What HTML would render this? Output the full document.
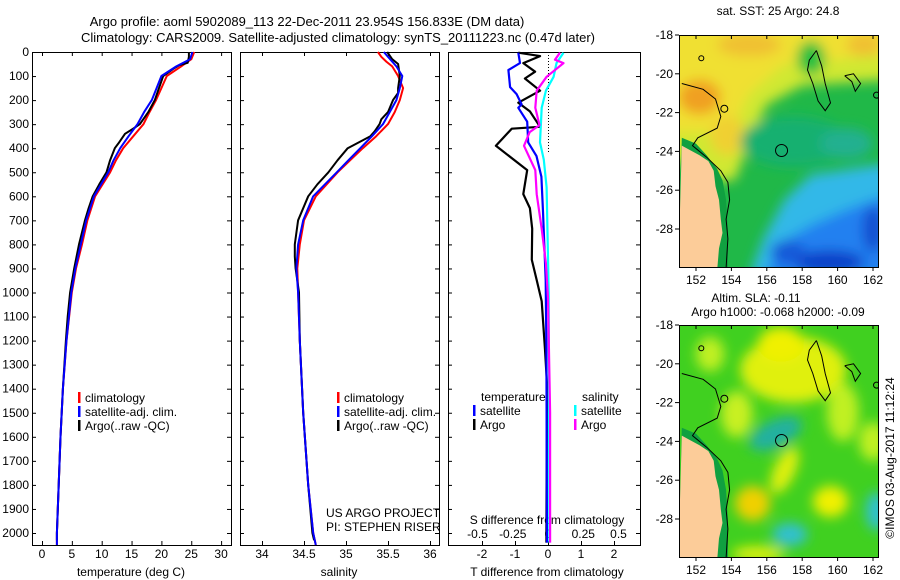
<!DOCTYPE html>
<html><head><meta charset="utf-8"><style>
body{margin:0;background:#fff}
svg{display:block;font-family:"Liberation Sans",sans-serif}
</style></head><body>
<svg id="chart" width="900" height="580" viewBox="0 0 900 580" xmlns="http://www.w3.org/2000/svg">
<defs>
<filter id="blur1" x="-30%" y="-30%" width="160%" height="160%"><feGaussianBlur stdDeviation="6"/></filter>
<clipPath id="clipTop"><rect x="679" y="35" width="199" height="232"/></clipPath>
<clipPath id="clipBot"><rect x="679" y="325" width="199" height="232"/></clipPath>
</defs>
<text x="307" y="26" font-size="13" text-anchor="middle">Argo profile: aoml 5902089_113 22-Dec-2011 23.954S 156.833E (DM data)</text>
<text x="338" y="42" font-size="13" text-anchor="middle">Climatology: CARS2009. Satellite-adjusted climatology: synTS_20111223.nc (0.47d later)</text>
<g id="layer"></g>
</svg>
<script>
// ---------- data ----------
const tArgoDepth=[0,20,45,55,70,100,150,200,250,300,320,340,380,400,450,500,550,600,650,700,800,900,1000,1100,1200,1400,1600,1800,2000,2030];
const tArgo=[24.6,24.6,24.4,23,22,20.3,19.6,18.9,17.8,16.4,15.2,13.9,12.8,12.2,11.4,10.8,9.6,8.5,7.8,7.2,6.2,5.4,4.7,4.3,4.0,3.5,3.1,2.8,2.5,2.5];
const climDepth=[0,30,60,100,150,200,250,300,350,400,450,500,600,700,800,900,1000,1200,1400,1600,1800,2000,2050];
const tClim=[25.5,25,23.3,20.9,20,19.1,18,17,15.3,13.6,12.4,11.4,8.9,7.6,6.7,5.7,5.0,4.1,3.5,3.1,2.8,2.5,2.5];
const tSat=[25.2,24.8,22.5,20,19.2,18.4,17.1,16,14.5,13.1,12,11.1,8.7,7.4,6.5,5.6,4.9,4.1,3.5,3.1,2.8,2.5,2.5];
const sArgoDepth=[0,30,50,100,150,170,200,250,280,300,330,350,400,450,500,550,600,700,800,850,900,1000,1200,1500,1800,2000,2030];
const sArgo=[35.49,35.55,35.62,35.64,35.62,35.62,35.56,35.5,35.42,35.4,35.34,35.29,35.02,34.9,34.79,34.66,34.55,34.43,34.39,34.39,34.4,34.44,34.45,34.49,34.55,34.6,34.62];
const sClimDepth=[0,20,40,60,100,150,200,250,300,350,400,450,500,600,700,800,900,1000,1200,1500,1800,2000,2050];
const sClim=[35.38,35.42,35.48,35.55,35.62,35.68,35.64,35.58,35.5,35.36,35.2,35.05,34.9,34.64,34.5,34.45,34.42,34.43,34.45,34.49,34.55,34.61,34.64];
const sSat=[35.45,35.5,35.55,35.6,35.67,35.64,35.6,35.52,35.44,35.31,35.17,35.03,34.89,34.61,34.49,34.43,34.41,34.43,34.45,34.49,34.55,34.61,34.64];
const dTArgoDepth=[3,17,46,82,110,161,211,247,311,319,390,491,591,649,735,864,950,1036,1237,1380,2000,2040];
const dTArgo=[-0.9,-0.24,-0.75,-0.39,-0.7,-0.24,-0.9,-0.55,-0.24,-1.1,-1.58,-0.63,-0.75,-0.55,-0.48,-0.49,-0.34,-0.19,-0.09,-0.03,-0.05,-0.05];
const dTSatDepth=[3,46,75,146,175,218,232,290,376,433,519,663,950,1237,2040];
const dTSat=[-0.9,-0.85,-1.2,-1.15,-0.95,-0.8,-0.9,-0.63,-0.6,-0.35,-0.2,-0.15,-0.07,-0.05,-0.03];
const dSSatDepth=[3,46,103,161,232,376,448,562,1000,2040];
const dSSat=[0.11,0.06,0.04,-0.015,-0.045,-0.057,-0.03,-0.01,0.005,0.01];
const dSArgoDepth=[3,32,46,103,161,232,304,333,390,491,591,735,878,1022,1500,2040];
const dSArgo=[0.085,0.05,0.11,-0.01,-0.08,-0.09,-0.06,-0.13,-0.17,-0.09,-0.08,-0.045,-0.015,0,0.015,0.015];
const depthTicks=[0,100,200,300,400,500,600,700,800,900,1000,1100,1200,1300,1400,1500,1600,1700,1800,1900,2000];
const tTicks=[0,5,10,15,20,25,30];
const sTicks=[34,34.5,35,35.5,36];
const dTTicks=[-2,-1,0,1,2];
const dSTicks=[-0.5,-0.25,0,0.25,0.5];
const latTicks=[-18,-20,-22,-24,-26,-28];
const lonTicks=[152,154,156,158,160,162];

// ---------- axes ----------
const TOP=52, BOT=545;
const yD=d=>TOP+d*0.2405;
const xT=t=>42+t*5.97;
const xS=s=>262+(s-34)*84;
const xDT=v=>548+v*33;
const xDS=v=>548+v*141;
const mapX=lon=>696+(lon-152)*17.7;
const mapYTop=lat=>35+(-18-lat)*19.4;
const mapYBot=lat=>325+(-18-lat)*19.4;

const NS='http://www.w3.org/2000/svg';
const L=document.getElementById('layer');
function mk(tag,attrs,parent){const e=document.createElementNS(NS,tag);for(const k in attrs)e.setAttribute(k,attrs[k]);(parent||L).appendChild(e);return e;}
function txt(s,x,y,size,anchor,parent){const e=mk('text',{x:x,y:y,'font-size':size,'text-anchor':anchor||'middle'},parent);e.textContent=s;return e;}

const panels=[[32,231],[240,439],[448,640]];
panels.forEach((p,i)=>{
  const r=mk('rect',{x:p[0]+0.5,y:TOP+0.5,width:p[1]-p[0],height:BOT-TOP,fill:'none',stroke:'#000','stroke-width':1});
  
  
});
depthTicks.forEach(d=>{
  const y=yD(d);
  const t=txt(String(d),29,y+4,12,'end');
  
  
  panels.forEach(p=>{
    mk('line',{x1:p[0],x2:p[0]+4,y1:y+0.5,y2:y+0.5,stroke:'#000'});
    mk('line',{x1:p[1]-4,x2:p[1],y1:y+0.5,y2:y+0.5,stroke:'#000'});
  });
});
function xAxis(ticks,fx,y,p,top){
  ticks.forEach(v=>{
    const x=fx(v);
    mk('line',{x1:x+0.5,x2:x+0.5,y1:BOT,y2:BOT-4,stroke:'#000'});
    if(top) mk('line',{x1:x+0.5,x2:x+0.5,y1:TOP,y2:TOP+4,stroke:'#000'});
    const t=txt(String(v),x,y,12);
    
    
  });
}
xAxis(tTicks,xT,558,panels[0],true);
xAxis(sTicks,xS,558,panels[1],true);
xAxis(dTTicks,xDT,558,panels[2],false);
dSTicks.forEach(v=>{
  const t=txt(String(v),xDS(v),538,12);
  
  
});
let t;
t=txt('temperature (deg C)',131,576,12);
t=txt('salinity',339,576,12);
t=txt('T difference from climatology',547,576,12);
t=txt('S difference from climatology',547,524,12);
t=txt('US ARGO PROJECT',326,517,12,'start');
t=txt('PI: STEPHEN RISER',326,531,12,'start');

const z=mk('line',{x1:548.5,x2:548.5,y1:TOP,y2:yD(420),stroke:'#000','stroke-dasharray':'1 2'});



function series(depths,vals,fx,color,w,name){
  const pts=depths.map((d,i)=>fx(vals[i]).toFixed(1)+','+yD(d).toFixed(1)).join(' ');
  const e=mk('polyline',{points:pts,fill:'none',stroke:color,'stroke-width':w,'stroke-linejoin':'round'});
  
  
}
series(climDepth,tClim,xT,'#f00',2,'temperature-climatology-line');
series(tArgoDepth,tArgo,xT,'#000',2,'temperature-argo-line');
series(climDepth,tSat,xT,'#00f',2,'temperature-satellite-line');
series(sClimDepth,sClim,xS,'#f00',2,'salinity-climatology-line');
series(sArgoDepth,sArgo,xS,'#000',2,'salinity-argo-line');
series(sClimDepth,sSat,xS,'#00f',2,'salinity-satellite-line');
series(dTArgoDepth,dTArgo,xDT,'#000',2.2,'t-diff-argo-line');
series(dTSatDepth,dTSat,xDT,'#00f',2.2,'t-diff-satellite-line');
series(dSSatDepth,dSSat,xDS,'#0ff',2.2,'s-diff-satellite-line');
series(dSArgoDepth,dSArgo,xDS,'#f0f',2.2,'s-diff-argo-line');

function legendEntry(x,y,color,label,name){
  const g=mk('g',{});
  
  
  mk('rect',{x:x,y:y-10,width:2.5,height:11,fill:color},g);
  txt(label,x+7,y,12,'start',g);
}
legendEntry(78,402,'#f00','climatology','legend-entry-climatology');
legendEntry(78,416,'#00f','satellite-adj. clim.','legend-entry-satellite');
legendEntry(78,430,'#000','Argo(..raw -QC)','legend-entry-argo');
legendEntry(337,402,'#f00','climatology','legend-entry-climatology-2');
legendEntry(337,416,'#00f','satellite-adj. clim.','legend-entry-satellite-2');
legendEntry(337,430,'#000','Argo(..raw -QC)','legend-entry-argo-2');
t=txt('temperature',481,401,12,'start');
t=txt('salinity',582,401,12,'start');
legendEntry(473,415,'#00f','satellite','legend-entry-t-satellite');
legendEntry(473,429,'#000','Argo','legend-entry-t-argo');
legendEntry(574,415,'#0ff','satellite','legend-entry-s-satellite');
legendEntry(574,429,'#f0f','Argo','legend-entry-s-argo');

// ---------- maps ----------
function ellipse(g,lon,lat,rx,ry,color,fy,rot){
  const cx=mapX(lon),cy=fy(lat);
  mk('ellipse',{cx:cx,cy:cy,rx:rx*17.7,ry:ry*19.4,fill:color,transform:rot?`rotate(${rot} ${cx} ${cy})`:''},g);
}
function poly(g,coords,fy,attrs){
  const pts=coords.map(c=>mapX(c[0]).toFixed(1)+','+fy(c[1]).toFixed(1)).join(' ');
  return mk('polygon',Object.assign({points:pts},attrs),g);
}
function line(g,coords,fy){
  const pts=coords.map(c=>mapX(c[0]).toFixed(1)+','+fy(c[1]).toFixed(1)).join(' ');
  mk('polyline',{points:pts,fill:'none',stroke:'#000','stroke-width':1},g);
}
function coastAndContours(g,fy){
  const coast=[[151.2,-23.7],[151.6,-23.9],[152.2,-24.2],[152.7,-24.5],[153.0,-25.0],[153.1,-25.8],[153.3,-26.5],[153.4,-27.5],[153.5,-28.2],[153.3,-29.0],[153.2,-30.1],[151.0,-30.1]];
  poly(g,[[151.2,-23.3],[152.0,-23.6],[152.6,-24.2],[153.2,-24.9],[153.5,-25.5],[153.7,-26.5],[153.8,-28],[153.8,-30.1],[151,-30.1]],fy,{fill:'#10a040'});
  poly(g,coast,fy,{fill:'#fccc99'});
  line(g,[[151.2,-20.5],[152.4,-20.8],[153.1,-21.3],[153.4,-22.2],[153.2,-22.8],[152.1,-23.3],[151.8,-23.7],[152.6,-24.3],[153.4,-25.0],[153.8,-25.6],[153.9,-26.5],[153.7,-27.5],[153.8,-28.5],[153.7,-30]],fy);
  line(g,[[158.8,-18.8],[158.4,-19.3],[158.3,-19.8],[158.6,-20.5],[158.9,-21.4],[159.3,-21.9],[159.6,-21.5],[159.3,-20.5],[159.1,-19.6],[158.8,-18.8]],fy);
  line(g,[[160.4,-20.1],[160.9,-20.0],[161.3,-20.5],[161.0,-20.9],[160.8,-20.4],[160.4,-20.1]],fy);
  mk('circle',{cx:mapX(156.833),cy:fy(-23.954),r:6,fill:'none',stroke:'#000'},g);
  mk('circle',{cx:mapX(152.3),cy:fy(-19.2),r:2.5,fill:'none',stroke:'#000'},g);
  mk('circle',{cx:mapX(153.6),cy:fy(-21.8),r:3.5,fill:'none',stroke:'#000'},g);
  mk('circle',{cx:mapX(162.2),cy:fy(-21.1),r:3,fill:'none',stroke:'#000'},g);
}
function mapAxes(fy,y0,name){
  const r=mk('rect',{x:679.5,y:y0+0.5,width:199,height:232,fill:'none',stroke:'#000'});
  
  
  latTicks.forEach(v=>{
    const y=fy(v);
    mk('line',{x1:675,x2:679,y1:y,y2:y,stroke:'#000'});
    const tt=txt(String(v),673,y+4,12,'end');
    
    
  });
  lonTicks.forEach(v=>{
    const x=mapX(v);
    mk('line',{x1:x,x2:x,y1:y0+232,y2:y0+236,stroke:'#000'});
    mk('line',{x1:x,x2:x,y1:y0,y2:y0+4,stroke:'#000'});
    const tt=txt(String(v),x,y0+249,12);
    
    
  });
}
// SST map
const g1=mk('g',{'clip-path':'url(#clipTop)'});


mk('rect',{x:679,y:35,width:199,height:232,fill:'#20b848'},g1);
const b1=mk('g',{filter:'url(#blur1)'},g1);
poly(b1,[[150,-17],[163,-17],[163,-20.3],[158,-20.6],[156,-21.6],[155,-23.5],[154.2,-25.5],[153,-25.5],[150,-24]],mapYTop,{fill:'#d0e830'});
poly(b1,[[150,-17],[163,-17],[163,-19],[157,-19.5],[155,-21],[154,-23],[150,-23]],mapYTop,{fill:'#f0e030'});
ellipse(b1,152.2,-21.2,1.2,0.9,'#f0a020',mapYTop);
ellipse(b1,155,-18.5,1.8,0.6,'#f0c030',mapYTop);
ellipse(b1,161.5,-18.5,1,0.6,'#f0c030',mapYTop);
ellipse(b1,153.8,-23.2,1,1,'#f0d030',mapYTop);
ellipse(b1,158.5,-19.2,0.8,0.9,'#20c040',mapYTop);
ellipse(b1,157.5,-23.5,3,1.3,'#18b070',mapYTop);
poly(b1,[[155,-30.5],[155.8,-28.5],[157,-26.5],[158.5,-25.2],[163,-24.6],[163,-30.5]],mapYTop,{fill:'#30b8e8'});
poly(b1,[[155.8,-30.5],[157,-28.6],[158.5,-27.8],[160.5,-27],[163,-26.2],[163,-30.5]],mapYTop,{fill:'#2080f0'});
ellipse(b1,159.5,-29.7,2,0.6,'#1040c8',mapYTop);
ellipse(b1,157.2,-29.2,1,0.6,'#1858d8',mapYTop);
ellipse(b1,162,-28,0.6,1.2,'#1850d0',mapYTop);
ellipse(b1,160.5,-23.6,1.5,0.8,'#20b090',mapYTop);
coastAndContours(g1,mapYTop);
mapAxes(mapYTop,35,'sst-map');
// SLA map
const g2=mk('g',{'clip-path':'url(#clipBot)'});


mk('rect',{x:679,y:325,width:199,height:232,fill:'#40d020'},g2);
const b2=mk('g',{filter:'url(#blur1)'},g2);
ellipse(b2,157.5,-20.3,3,1.7,'#e0f010',mapYBot);
ellipse(b2,156.8,-19.0,1.3,0.9,'#f0f000',mapYBot);
ellipse(b2,152.8,-19.5,0.8,0.9,'#c0f020',mapYBot);
ellipse(b2,154.3,-22.6,0.9,1.2,'#c8f020',mapYBot);
ellipse(b2,160.3,-22.5,0.9,1.5,'#c0f020',mapYBot);
ellipse(b2,162,-24,0.8,1,'#c0f020',mapYBot);
ellipse(b2,156.5,-23.6,1.6,0.7,'#20b0a0',mapYBot,-25);
ellipse(b2,155.2,-27.2,1.0,0.9,'#f0d000',mapYBot);
ellipse(b2,157,-25.5,0.6,1.3,'#e0f010',mapYBot,25);
ellipse(b2,159.6,-27.1,1.0,0.8,'#f0f000',mapYBot);
ellipse(b2,157.3,-28.8,1.0,0.6,'#30c0d0',mapYBot);
ellipse(b2,162.2,-27.6,0.6,1.0,'#30c0d0',mapYBot);
ellipse(b2,155.5,-29.8,1.5,0.4,'#e0f010',mapYBot);
coastAndContours(g2,mapYBot);
mapAxes(mapYBot,325,'sla-map');

t=txt('sat. SST: 25 Argo: 24.8',778,15,12);
t=txt('Altim. SLA: -0.11',756,302,12);
t=txt('Argo h1000: -0.068 h2000: -0.09',778,316,12);
t=txt('©IMOS 03-Aug-2017 11:12:24',0,0,12);
t.setAttribute('transform','translate(894 458) rotate(-90)');


</script>
</body></html>
